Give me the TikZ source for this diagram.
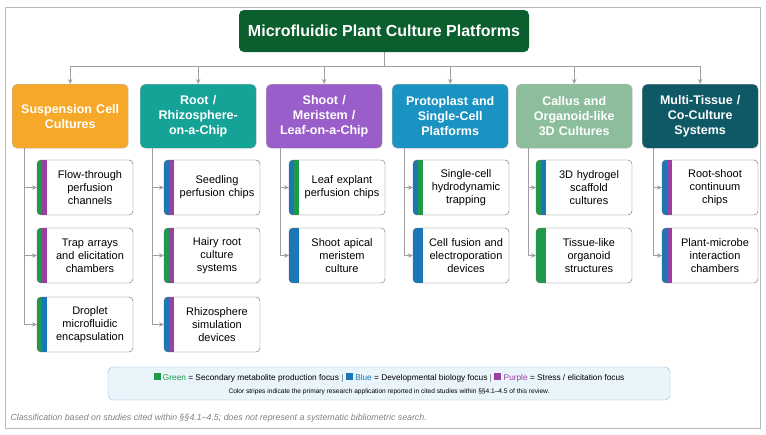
\documentclass[tikz,border=0pt]{standalone}
\usepackage{fontspec}
\setmainfont{Liberation Sans}
\usetikzlibrary{arrows.meta,positioning}

\definecolor{titlegreen}{HTML}{0B5E2E}
\definecolor{catorange}{HTML}{F6A928}
\definecolor{catteal}{HTML}{14A396}
\definecolor{catpurple}{HTML}{9A5ECB}
\definecolor{catblue}{HTML}{1A93C2}
\definecolor{catsage}{HTML}{8DBE9C}
\definecolor{catdark}{HTML}{0F5866}
\definecolor{stgreen}{HTML}{1E9A4A}
\definecolor{stblue}{HTML}{1A77B8}
\definecolor{stpurple}{HTML}{9B3FA0}
\definecolor{legfill}{HTML}{E9F4FB}
\definecolor{legline}{HTML}{9DB9D1}

\tikzset{
  link/.style={draw=gray!75, line width=0.8pt},
  arr/.style={link, -{Stealth[length=5pt,width=4.5pt]}},
  category/.style={rounded corners=5pt, draw=gray!60, minimum width=116pt,
    minimum height=64pt, anchor=north west, align=center, text=white,
    font=\fontsize{12.5}{15}\selectfont\bfseries, text width=108pt},
  cardtxt/.style={align=center, font=\fontsize{11}{13}\selectfont, text width=86pt},
}

% tarjeta: nombre, x izquierda, y arriba, franja exterior, franja interior, texto
\newcommand{\platcard}[6]{%
  \begin{scope}
    \clip[rounded corners=4pt] (#2,#3) rectangle ++(96,55);
    \fill[white] (#2,#3) rectangle ++(96,55);
    \fill[#4] (#2,#3) rectangle ++(5,55);
    \fill[#5] (#2+5,#3) rectangle ++(5,55);
  \end{scope}
  \draw[gray!80!black, rounded corners=4pt] (#2,#3) rectangle ++(96,55);
  \node[cardtxt] (#1) at (#2+53,#3+27.5) {#6};
  \coordinate (#1-in) at (#2,#3+27.5);
}

\begin{document}
\begin{tikzpicture}[x=1pt,y=-1pt]
  \useasboundingbox (0,0) rectangle (766,434);
  % Marco
  \draw[gray!55] (5,7) rectangle (760,428);

  % Titulo
  \node[fill=titlegreen, rounded corners=5pt, minimum width=290pt, minimum height=42pt,
    text=white, font=\fontsize{16}{19}\selectfont\bfseries] (title) at (384,31)
    {Microfluidic Plant Culture Platforms};

  % Categorias
  \node[category, fill=catorange] (cat1) at (12,84) {Suspension Cell\\Cultures};
  \node[category, fill=catteal] (cat2) at (140,84) {Root /\\Rhizosphere-\\on-a-Chip};
  \node[category, fill=catpurple] (cat3) at (266,84) {Shoot /\\Meristem /\\Leaf-on-a-Chip};
  \node[category, fill=catblue] (cat4) at (392,84) {Protoplast and\\Single-Cell\\Platforms};
  \node[category, fill=catsage] (cat5) at (516,84) {Callus and\\Organoid-like\\3D Cultures};
  \node[category, fill=catdark] (cat6) at (642,84) {Multi-Tissue /\\Co-Culture\\Systems};

  % Conectores del titulo
  \coordinate (bus) at (384,66);
  \draw[link] (title.south) -- (bus);
  \draw[link] (cat1.north |- bus) -- (cat6.north |- bus);
  \foreach \i in {1,...,6}
    \draw[arr] (cat\i.north |- bus) -- (cat\i.north);

  % Tarjetas
  \platcard{c11}{37}{160}{stgreen}{stpurple}{Flow-through\\perfusion\\channels}
  \platcard{c12}{37}{228}{stgreen}{stpurple}{Trap arrays\\and elicitation\\chambers}
  \platcard{c13}{37}{297}{stgreen}{stblue}{Droplet\\microfluidic\\encapsulation}

  \platcard{c21}{164}{160}{stblue}{stpurple}{Seedling\\perfusion chips}
  \platcard{c22}{164}{228}{stgreen}{stpurple}{Hairy root\\culture\\systems}
  \platcard{c23}{164}{297}{stblue}{stpurple}{Rhizosphere\\simulation\\devices}

  \platcard{c31}{289}{160}{stblue}{stgreen}{Leaf explant\\perfusion chips}
  \platcard{c32}{289}{228}{stblue}{stblue}{Shoot apical\\meristem\\culture}

  \platcard{c41}{413}{160}{stblue}{stgreen}{Single-cell\\hydrodynamic\\trapping}
  \platcard{c42}{413}{228}{stblue}{stblue}{Cell fusion and\\electroporation\\devices}

  \platcard{c51}{536}{160}{stgreen}{stblue}{3D hydrogel\\scaffold\\cultures}
  \platcard{c52}{536}{228}{stgreen}{stgreen}{Tissue-like\\organoid\\structures}

  \platcard{c61}{662}{160}{stblue}{stpurple}{Root-shoot\\continuum\\chips}
  \platcard{c62}{662}{228}{stblue}{stpurple}{Plant-microbe\\interaction\\chambers}

  % Troncos y flechas a las tarjetas
  \foreach \col/\tx/\last in {1/24/3, 2/152/3, 3/280/2, 4/404/2, 5/528/2, 6/653/2} {
    \draw[link] (\tx,148) -- (\tx,0 |- c\col\last-in);
    \foreach \r in {1,...,\last}
      \draw[arr] (\tx,0 |- c\col\r-in) -- (c\col\r-in);
  }

  % Leyenda
  \node[draw=legline, fill=legfill, rounded corners=5pt, minimum width=562pt,
    minimum height=33pt] (legend) at (389,383.5) {};
  \node[font=\fontsize{8.3}{10}\selectfont] (leg1) at (389,377.5)
    {\textcolor{stgreen}{\rule{7pt}{7pt}} \textcolor{stgreen}{Green} = Secondary metabolite production focus $|$
     \textcolor{stblue}{\rule{7pt}{7pt}} \textcolor{stblue}{Blue} = Developmental biology focus $|$
     \textcolor{stpurple}{\rule{7pt}{7pt}} \textcolor{stpurple}{Purple} = Stress / elicitation focus};
  \node[font=\fontsize{6.6}{8}\selectfont] (leg2) at (389,392)
    {Color stripes indicate the primary research application reported in cited studies within §§4.1–4.5 of this review.};

  % Nota al pie
  \node[anchor=west, text=gray, font=\fontsize{8.8}{10}\selectfont\itshape] (note) at (7,418)
    {Classification based on studies cited within §§4.1–4.5; does not represent a systematic bibliometric search.};
\end{tikzpicture}
\end{document}
